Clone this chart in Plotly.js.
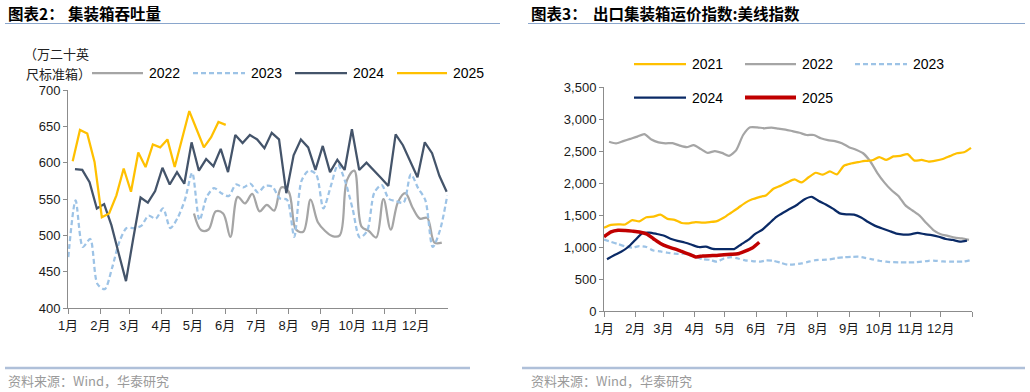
<!DOCTYPE html>
<html><head><meta charset="utf-8">
<script src="https://cdn.plot.ly/plotly-3.0.1.min.js"></script>
<style>html,body{margin:0;padding:0;background:#fff;}#chart{width:1030px;height:392px;}</style>
</head><body><div id="chart"></div>
<script>
// ---------- shared categories ----------
const monthLabels = ['1月','2月','3月','4月','5月','6月','7月','8月','9月','10月','11月','12月'];
const monthStartDays = [0,31,59,90,120,151,181,212,243,273,304,334];

// ---------- 图表2 集装箱吞吐量 (万TEU, weekly) ----------
const tputStart2022 = 121;
const tput2022 = [530,507,508,533,530,498,553,544,557,533,542,534,566,560,508,505,549,518,506,499,
  500,576,589,512,506,497,550,508,546,558,538,523,524,490,490];
const tputStart2023 = 0.3;
const tput2023 = [470,548,484,495,433,426,455,491,510,510,513,527,523,537,510,524,549,586,521,553,
  565,558,554,570,566,571,559,568,567,551,549,498,575,589,584,537,567,597,574,537,
  497,506,559,569,550,547,545,584,565,548,484,507,555];
const tputStart2024 = 6.7;
const tput2024 = [591,590,573,537,543,514,475,437,496,552,545,561,593,570,587,571,628,589,605,595,
  619,587,638,627,638,632,620,641,632,558,610,632,621,590,623,587,604,590,646,590,
  600,590,579,568,639,624,602,580,628,613,582,560];
const tputStart2025 = 4.5;
const tput2025 = [602,645,640,601,525,530,555,592,560,614,594,625,621,632,594,631,671,646,621,635,656,652];

// ---------- 图表3 出口集装箱运价指数:美线指数 (weekly) ----------
const rateStart2021 = 0;
const rate2021 = [1300,1345,1355,1352,1420,1400,1465,1474,1505,1440,1425,1375,1370,1390,1380,1390,1405,1460,1535,1610,
  1690,1745,1780,1810,1910,1955,2010,2055,2010,2090,2160,2130,2180,2135,2270,2305,2325,2344,2355,2405,
  2360,2415,2425,2450,2350,2360,2335,2350,2375,2420,2465,2480,2550];
const rateStart2022 = 5;
const rate2022 = [2645,2620,2655,2690,2725,2765,2680,2635,2620,2622,2585,2560,2590,2530,2470,2500,2470,2425,2510,2750,
  2870,2870,2855,2865,2850,2835,2810,2785,2750,2750,2700,2670,2655,2620,2560,2520,2465,2340,2160,2010,
  1890,1797,1650,1570,1490,1370,1260,1200,1175,1145,1135,1110];
const rateStart2023 = 0;
const rate2023 = [1115,1080,1045,1010,990,1015,1000,945,930,910,895,895,900,850,810,800,770,820,840,820,
  790,780,770,790,785,755,725,730,745,770,795,800,808,828,840,845,848,830,808,785,
  770,762,760,758,760,770,785,785,775,770,770,772,795];
const rateStart2024 = 3;
const rate2024 = [808,870,925,1000,1110,1215,1225,1205,1180,1130,1095,1070,1035,1000,1005,970,965,968,968,1040,
  1110,1205,1270,1370,1470,1540,1600,1665,1745,1785,1720,1665,1600,1525,1510,1505,1460,1390,1330,1290,
  1250,1210,1195,1198,1220,1200,1185,1160,1125,1110,1085,1100];
const rateStart2025 = 0;
const rate2025 = [1160,1235,1262,1258,1248,1235,1205,1130,1055,1005,970,930,888,845,860,865,868,878,885,895,935,985,1075];

// ---------- helpers ----------
const W = 1030, H = 392;
const px = v => v / W;
const py = v => 1 - v / H;
const weekDays = (start, n) => Array.from({length: n}, (_, i) => start + 7 * i);

const C = {gray:'#a5a5a5', lblue:'#9dc3e6', slate:'#44546a', gold:'#ffc000', navy:'#0a2a66', red:'#c00000'};
const tickFont = {family:'Liberation Sans, Arial, Noto Sans CJK SC, sans-serif', size:13, color:'#1a1a1a'};
const cjk = 'Noto Sans CJK SC, Liberation Sans, sans-serif';
const DASH = '5px,3px';

function tr(x, y, ax, ay, line, name) {
  return {x, y, xaxis: ax, yaxis: ay, type: 'scatter', mode: 'lines', line, name, showlegend: false, hoverinfo: 'skip'};
}

const data = [
  tr(weekDays(tputStart2022, tput2022.length), tput2022, 'x', 'y', {color: C.gray, width: 2.25, shape: 'spline', smoothing: 1}, '2022'),
  tr(weekDays(tputStart2023, tput2023.length), tput2023, 'x', 'y', {color: C.lblue, width: 2.25, dash: DASH, shape: 'spline', smoothing: 0.8}, '2023'),
  tr(weekDays(tputStart2024, tput2024.length), tput2024, 'x', 'y', {color: C.slate, width: 2.25}, '2024'),
  tr(weekDays(tputStart2025, tput2025.length), tput2025, 'x', 'y', {color: C.gold, width: 2.25}, '2025'),

  tr(weekDays(rateStart2023, rate2023.length), rate2023, 'x2', 'y2', {color: C.lblue, width: 2.25, dash: DASH, shape: 'spline', smoothing: 0.6}, '2023'),
  tr(weekDays(rateStart2022, rate2022.length), rate2022, 'x2', 'y2', {color: C.gray, width: 2.25, shape: 'spline', smoothing: 0.6}, '2022'),
  tr(weekDays(rateStart2021, rate2021.length), rate2021, 'x2', 'y2', {color: C.gold, width: 2.25, shape: 'spline', smoothing: 0.6}, '2021'),
  tr(weekDays(rateStart2024, rate2024.length), rate2024, 'x2', 'y2', {color: C.navy, width: 2.25, shape: 'spline', smoothing: 0.6}, '2024'),
  tr(weekDays(rateStart2025, rate2025.length), rate2025, 'x2', 'y2', {color: C.red, width: 3.5, shape: 'spline', smoothing: 0.6}, '2025')
];

const axisCommon = {
  showgrid: false, zeroline: false, showline: true, linecolor: '#8c8c8c', linewidth: 1,
  ticks: 'outside', tickcolor: '#8c8c8c', tickwidth: 1, tickfont: tickFont, fixedrange: true
};

const layout = {
  width: W, height: H, autosize: false,
  margin: {l: 0, r: 0, t: 0, b: 0, pad: 0},
  paper_bgcolor: '#ffffff', plot_bgcolor: '#ffffff',
  showlegend: false,
  xaxis: Object.assign({}, axisCommon, {
    domain: [px(68), px(448)], range: [0, 365], anchor: 'y',
    tickmode: 'array', tickvals: monthStartDays, ticktext: monthLabels, ticklen: 5
  }),
  yaxis: Object.assign({}, axisCommon, {
    domain: [py(308), py(90)], range: [400, 700], dtick: 50, anchor: 'x', ticklen: 4
  }),
  xaxis2: Object.assign({}, axisCommon, {
    domain: [px(604), px(972)], range: [0, 365], anchor: 'y2',
    tickmode: 'array', tickvals: monthStartDays.concat([365]), ticktext: monthLabels.concat(['']), ticklen: 5
  }),
  yaxis2: Object.assign({}, axisCommon, {
    domain: [py(311), py(87)], range: [0, 3500], dtick: 500, tickformat: ',', anchor: 'x2', ticklen: 4
  }),
  shapes: [],
  annotations: []
};

function seg(x0, x1, y, color, width, dash) {
  layout.shapes.push({type: 'line', xref: 'paper', yref: 'paper', x0: px(x0), x1: px(x1), y0: py(y), y1: py(y),
    line: {color, width, dash: dash || 'solid'}});
}
function txt(x, y, text, size, color, family, anchor) {
  layout.annotations.push({xref: 'paper', yref: 'paper', x: px(x), y: py(y), text, showarrow: false,
    xanchor: anchor || 'left', yanchor: 'middle', font: {size, color, family: family || cjk}});
}

// header rules & titles
seg(5, 500, 23.5, '#8aa6cc', 1);
seg(528, 1025, 23.5, '#8aa6cc', 1);
txt(6, 13, '<b>图表2：</b>', 15.5, '#000', cjk);
txt(66, 13, '<b>集装箱吞吐量</b>', 15.5, '#000', cjk);
txt(529, 13, '<b>图表3：</b>', 15.5, '#000', cjk);
txt(591, 13, '<b>出口集装箱运价指数:美线指数</b>', 15.5, '#000', cjk);

// footer rules & sources
seg(5, 470, 368, '#afc0d9', 2.5);
seg(522, 1025, 368, '#afc0d9', 2.5);
txt(6, 380, '资料来源：Wind，华泰研究', 13, '#9a9a9a', cjk);
txt(529, 380, '资料来源：Wind，华泰研究', 13, '#9a9a9a', cjk);

// left unit label
txt(22, 54, '（万二十英', 13, '#222', cjk);
txt(24, 73, '尺标准箱）', 13, '#222', cjk);

// left legend
const lf = 'Liberation Sans, Arial, sans-serif';
seg(92, 143, 73, C.gray, 2.25); txt(147, 73, '2022', 14, '#000', lf);
seg(193, 245, 73, C.lblue, 2.25, DASH); txt(249, 73, '2023', 14, '#000', lf);
seg(295, 347, 73, C.slate, 2.25); txt(351, 73, '2024', 14, '#000', lf);
seg(397, 447, 73, C.gold, 2.25); txt(451, 73, '2025', 14, '#000', lf);

// right legend
seg(634, 686, 64, C.gold, 2.25); txt(690, 64, '2021', 14, '#000', lf);
seg(745, 796, 64, C.gray, 2.25); txt(800, 64, '2022', 14, '#000', lf);
seg(855, 907, 64, C.lblue, 2.25, DASH); txt(911, 64, '2023', 14, '#000', lf);
seg(634, 686, 97.5, C.navy, 2.25); txt(690, 97.5, '2024', 14, '#000', lf);
seg(745, 796, 97.5, C.red, 4); txt(800, 97.5, '2025', 14, '#000', lf);

Plotly.newPlot('chart', data, layout, {staticPlot: true, displayModeBar: false});
</script>
</body></html>
